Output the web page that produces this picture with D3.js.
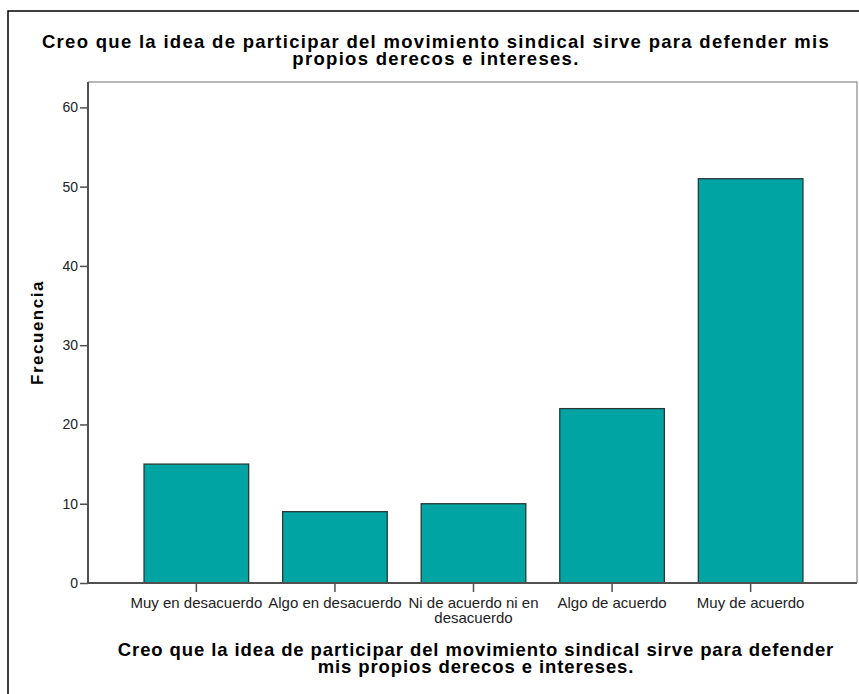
<!DOCTYPE html>
<html>
<head>
<meta charset="utf-8">
<script src="https://cdn.jsdelivr.net/npm/d3@7"></script>
<style>
  html, body { margin: 0; padding: 0; background: #fff; }
  svg { display: block; font-family: "Liberation Sans", Arial, sans-serif; }
</style>
</head>
<body>
<svg id="chart" width="859" height="694"></svg>
<script>
// Response categories and frequencies
const categories = [
  "Muy en desacuerdo",
  "Algo en desacuerdo",
  "Ni de acuerdo ni en desacuerdo",
  "Algo de acuerdo",
  "Muy de acuerdo"
];
const frequencies = [15, 9, 10, 22, 51];
const yTicks = [0, 10, 20, 30, 40, 50, 60];
const titleLines = [
  "Creo que la idea de participar del movimiento sindical sirve para defender mis",
  "propios derecos e intereses."
];
const xTitleLines = [
  "Creo que la idea de participar del movimiento sindical sirve para defender",
  "mis propios derecos e intereses."
];
const yTitle = "Frecuencia";

const svg = d3.select("#chart");
const W = 859, H = 694;
const plot = { left: 88, right: 857, top: 82, bottom: 583 };

// Outer frame
svg.append("rect")
  .attr("x", 8).attr("y", 11)
  .attr("width", W + 20).attr("height", H + 20)
  .attr("fill", "none").attr("stroke", "#000").attr("stroke-width", 1.5);

const x = d3.scaleBand()
  .domain(categories)
  .range([90, plot.right])
  .paddingInner(0.245)
  .paddingOuter(0.39);

const y = d3.scaleLinear()
  .domain([0, 63.2])
  .range([plot.bottom, plot.top]);

// Plot area border (top and right)
svg.append("path")
  .attr("d", `M${plot.left},${plot.top}H${plot.right}V${plot.bottom}`)
  .attr("fill", "none").attr("stroke", "#a0a0a0").attr("stroke-width", 1.5);

// Bars
svg.append("g").selectAll("rect")
  .data(frequencies)
  .join("rect")
  .attr("x", (d, i) => x(categories[i]))
  .attr("y", d => y(d))
  .attr("width", x.bandwidth())
  .attr("height", d => y(0) - y(d))
  .attr("fill", "#00a5a3")
  .attr("stroke", "#2a3838")
  .attr("stroke-width", 1.3);

// Y axis
const yAxis = svg.append("g")
  .attr("transform", `translate(${plot.left},0)`)
  .call(d3.axisLeft(y).tickValues(yTicks).tickSize(8).tickPadding(2).tickSizeOuter(0));
yAxis.select(".domain").remove();
yAxis.append("line")
  .attr("x1", 0).attr("x2", 0).attr("y1", plot.top).attr("y2", plot.bottom)
  .attr("stroke", "#505050").attr("stroke-width", 2);
yAxis.selectAll(".tick line").attr("stroke", "#505050").attr("stroke-width", 1.5);
yAxis.selectAll(".tick text").attr("font-size", 14).attr("fill", "#222")
  .attr("font-family", "Liberation Sans, Arial, sans-serif");

// X axis
const xAxis = svg.append("g")
  .attr("transform", `translate(0,${plot.bottom})`)
  .call(d3.axisBottom(x).tickSize(9).tickPadding(5).tickSizeOuter(0));
xAxis.select(".domain").remove();
xAxis.append("line")
  .attr("x1", plot.left).attr("x2", plot.right).attr("y1", 0).attr("y2", 0)
  .attr("stroke", "#505050").attr("stroke-width", 2);
xAxis.selectAll(".tick line").attr("stroke", "#505050").attr("stroke-width", 1.5);
xAxis.selectAll(".tick text")
  .attr("font-size", 15).attr("fill", "#222")
  .attr("font-family", "Liberation Sans, Arial, sans-serif")
  .each(function(d) {
    const t = d3.select(this);
    const lines = d === "Ni de acuerdo ni en desacuerdo"
      ? ["Ni de acuerdo ni en", "desacuerdo"] : [d];
    t.text(null);
    lines.forEach((s, i) => {
      t.append("tspan").attr("x", 0).attr("dy", i === 0 ? "0.71em" : "1em").text(s);
    });
  });

// Chart title
svg.append("text")
  .attr("y", 48)
  .attr("text-anchor", "middle")
  .attr("font-size", 18.5).attr("font-weight", "bold").attr("fill", "#000")
  .attr("letter-spacing", 1.3)
  .selectAll("tspan").data(titleLines).join("tspan")
  .attr("x", 436).attr("dy", (d, i) => i === 0 ? 0 : 17)
  .text(d => d);

// X axis title
svg.append("text")
  .attr("y", 656)
  .attr("text-anchor", "middle")
  .attr("font-size", 18.5).attr("font-weight", "bold").attr("fill", "#000")
  .attr("letter-spacing", 0.9)
  .selectAll("tspan").data(xTitleLines).join("tspan")
  .attr("x", 476).attr("dy", (d, i) => i === 0 ? 0 : 17)
  .text(d => d);

// Y axis title
svg.append("text")
  .attr("transform", `translate(43,${(plot.top + plot.bottom) / 2}) rotate(-90)`)
  .attr("text-anchor", "middle")
  .attr("font-size", 17).attr("font-weight", "bold").attr("fill", "#000")
  .attr("letter-spacing", 1.5)
  .text(yTitle);
</script>
</body>
</html>
